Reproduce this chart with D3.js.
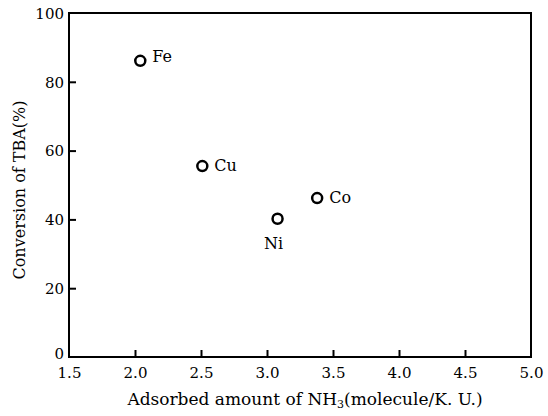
<!DOCTYPE html>
<html>
<head>
<meta charset="utf-8">
<script src="https://cdn.jsdelivr.net/npm/d3@7"></script>
<style>
  html, body { margin: 0; padding: 0; background: #fff; }
  svg { display: block; }
  text { font-family: "DejaVu Serif", "Liberation Serif", serif; fill: #000; }
</style>
</head>
<body>
<svg id="chart" width="548" height="416"></svg>
<script>
// ---- data ----
const metals = ["Fe", "Cu", "Ni", "Co"];
const adsorbedNH3 = [2.04, 2.51, 3.08, 3.38];
const conversionTBA = [86.1, 55.5, 40.2, 46.2];
const xTicks = [1.5, 2.0, 2.5, 3.0, 3.5, 4.0, 4.5, 5.0];
const yTicks = [0, 20, 40, 60, 80, 100];
const xTitle = "Adsorbed amount of NH";
const yTitle = "Conversion of TBA(%)";

// ---- layout ----
const svg = d3.select("#chart");
const mLeft = 69, mRight = 531, mTop = 13, mBottom = 357;

const x = d3.scaleLinear().domain([1.5, 5.0]).range([mLeft, mRight]);
const y = d3.scaleLinear().domain([0, 100]).range([mBottom, mTop]);

// frame
svg.append("rect")
  .attr("x", mLeft).attr("y", mTop)
  .attr("width", mRight - mLeft).attr("height", mBottom - mTop)
  .attr("fill", "none").attr("stroke", "#000").attr("stroke-width", 2);

// x axis (ticks inward)
const xAxis = d3.axisTop(x).tickValues(xTicks).tickSize(7).tickFormat(d3.format(".1f"));
const gx = svg.append("g").attr("transform", `translate(0,${mBottom})`).call(xAxis);
gx.select(".domain").remove();
gx.selectAll(".tick line").attr("stroke", "#000").attr("stroke-width", 2)
  .filter(d => d === 1.5 || d === 5.0).remove();
gx.selectAll(".tick text")
  .attr("y", 21).attr("dy", 0)
  .attr("font-size", 15).attr("font-family", "DejaVu Serif")
  .attr("text-anchor", "middle");

// y axis (ticks inward)
const yAxis = d3.axisRight(y).tickValues(yTicks).tickSize(7).tickFormat(d3.format("d"));
const gy = svg.append("g").attr("transform", `translate(${mLeft},0)`).call(yAxis);
gy.select(".domain").remove();
gy.selectAll(".tick line").attr("stroke", "#000").attr("stroke-width", 2)
  .filter(d => d === 0 || d === 100).remove();
gy.selectAll(".tick text")
  .attr("x", -5).attr("dy", d => d === 0 ? "0.1em" : "0.35em")
  .attr("text-anchor", "end")
  .attr("font-size", 15).attr("font-family", "DejaVu Serif");

// x title
const xt = svg.append("text")
  .attr("x", (mLeft + mRight) / 2 + 5).attr("y", 405)
  .attr("text-anchor", "middle").attr("font-size", 17);
xt.append("tspan").text(xTitle);
xt.append("tspan").attr("font-size", 11).attr("dy", 3).text("3");
xt.append("tspan").attr("dy", -3).text("(molecule/K. U.)");

// y title
svg.append("text")
  .attr("transform", `translate(25,${(mTop + mBottom) / 2 + 5}) rotate(-90)`)
  .attr("text-anchor", "middle").attr("font-size", 16)
  .text(yTitle);

// points
const pts = metals.map((m, i) => ({ m, x: adsorbedNH3[i], y: conversionTBA[i] }));
svg.selectAll("circle.pt").data(pts).enter().append("circle")
  .attr("class", "pt")
  .attr("cx", d => x(d.x)).attr("cy", d => y(d.y))
  .attr("r", 5).attr("fill", "#fff").attr("stroke", "#000").attr("stroke-width", 2.5);

// point labels
const labelOffset = { Fe: [12, 1, "start"], Cu: [12, 5, "start"], Co: [12, 5, "start"], Ni: [-4, 30, "middle"] };
svg.selectAll("text.lbl").data(pts).enter().append("text")
  .attr("class", "lbl")
  .attr("x", d => x(d.x) + labelOffset[d.m][0])
  .attr("y", d => y(d.y) + labelOffset[d.m][1])
  .attr("text-anchor", d => labelOffset[d.m][2])
  .attr("font-size", 16)
  .text(d => d.m);
</script>
</body>
</html>
